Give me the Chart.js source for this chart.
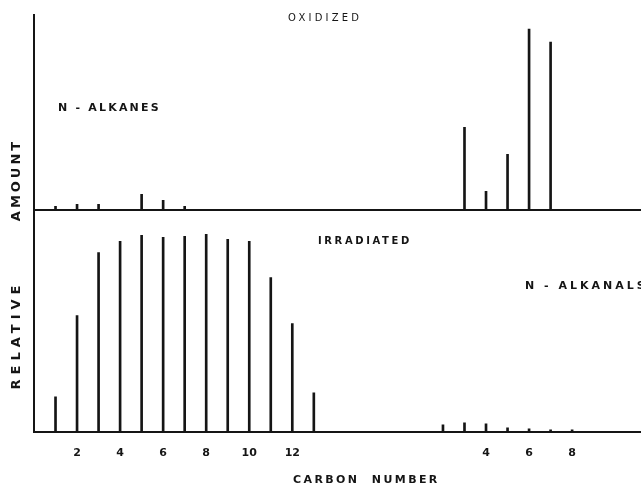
<!DOCTYPE html>
<html><head><meta charset="utf-8">
<script src="https://cdn.jsdelivr.net/npm/chart.js@4"></script>
<style>html,body{margin:0;padding:0;background:#fff}</style>
</head><body>
<canvas id="c" width="641" height="491"></canvas>
<script>
// ---- data (relative amounts) ----
const oxidizedAlkaneCarbons = [1, 2, 3, 5, 6, 7];
const oxidizedAlkanes = [4, 6, 6, 16, 10, 4];
const oxidizedAlkanalCarbons = [3, 4, 5, 6, 7];
const oxidizedAlkanals = [83, 19, 56, 181, 168];
const irradiatedAlkaneCarbons = [1, 2, 3, 4, 5, 6, 7, 8, 9, 10, 11, 12, 13];
const irradiatedAlkanes = [35, 116, 179, 190, 196, 194, 195, 197, 192, 190, 154, 108, 39];
const irradiatedAlkanalCarbons = [2, 3, 4, 5, 6, 7, 8];
const irradiatedAlkanals = [7, 9, 8, 4, 3, 2, 2];
const alkanalOffset = 17; // alkanal group drawn to the right of the alkane group
const tickValues = [2, 4, 6, 8, 10, 12, 21, 23, 25];
const tickLabels = ['2', '4', '6', '8', '10', '12', '4', '6', '8'];

const INK = '#151515';
const pts = (cs, vs, off) => cs.map((c, i) => ({ x: c + off, y: vs[i] }));
const barStyle = { backgroundColor: INK, borderWidth: 0, barThickness: 2, grouped: false };

const annotate = {
  id: 'annotate',
  afterDraw(chart) {
    const ctx = chart.ctx, a = chart.chartArea;
    const yTop = chart.scales.yTop;
    ctx.save();
    ctx.strokeStyle = INK; ctx.lineWidth = 2;
    const y0 = Math.round(yTop.getPixelForValue(0));
    ctx.beginPath(); ctx.moveTo(a.left, y0); ctx.lineTo(a.right, y0); ctx.stroke();
    ctx.fillStyle = INK; ctx.textBaseline = 'middle';
    const txt = (s, x, y, size, weight, sp, align) => {
      ctx.font = weight + ' ' + size + 'px "DejaVu Sans", sans-serif';
      ctx.letterSpacing = sp + 'px';
      ctx.textAlign = align || 'left';
      ctx.fillText(s, x, y);
    };
    txt('OXIDIZED', 288, 18, 10, 'normal', 3.2);
    txt('IRRADIATED', 318, 241, 10, 'bold', 2.6);
    txt('N - ALKANES', 58, 108, 11, 'bold', 2.2);
    txt('N - ALKANALS', 525, 286, 11, 'bold', 3.0);
    txt('CARBON  NUMBER', 293, 480, 11, 'bold', 2.4);
    ctx.save();
    ctx.translate(17, 0); ctx.rotate(-Math.PI / 2);
    txt('AMOUNT', -180, 0, 13, 'bold', 3, 'center');
    txt('RELATIVE', -335, 0, 13, 'bold', 5, 'center');
    ctx.restore();
    ctx.restore();
  }
};

const hideWidth = scale => { scale.width = 0; };

new Chart(document.getElementById('c'), {
  type: 'bar',
  data: {
    datasets: [
      { ...barStyle, label: 'Oxidized n-alkanes', yAxisID: 'yTop', data: pts(oxidizedAlkaneCarbons, oxidizedAlkanes, 0) },
      { ...barStyle, label: 'Oxidized n-alkanals', yAxisID: 'yTop', data: pts(oxidizedAlkanalCarbons, oxidizedAlkanals, alkanalOffset) },
      { ...barStyle, label: 'Irradiated n-alkanes', yAxisID: 'yBot', data: pts(irradiatedAlkaneCarbons, irradiatedAlkanes, 0) },
      { ...barStyle, label: 'Irradiated n-alkanals', yAxisID: 'yBot', data: pts(irradiatedAlkanalCarbons, irradiatedAlkanals, alkanalOffset) }
    ]
  },
  options: {
    responsive: false,
    animation: false,
    devicePixelRatio: 1,
    layout: { padding: { left: 34, top: 15, right: 0, bottom: 24 } },
    plugins: { legend: { display: false }, tooltip: { enabled: false } },
    scales: {
      x: {
        type: 'linear', min: 0, max: 28.2, offset: false,
        grid: { display: false },
        border: { display: true, color: INK, width: 2 },
        afterBuildTicks(scale) { scale.ticks = tickValues.map(v => ({ value: v })); },
        ticks: {
          autoSkip: false, maxRotation: 0, padding: 7, color: INK,
          font: { family: '"DejaVu Sans", sans-serif', size: 11, weight: 'bold' },
          callback(v) { const i = tickValues.indexOf(v); return i >= 0 ? tickLabels[i] : ''; }
        }
      },
      yBot: {
        type: 'linear', position: 'left', stack: 'panels', stackWeight: 221,
        min: 0, max: 221, afterFit: hideWidth,
        grid: { display: false },
        ticks: { display: false },
        border: { display: true, color: INK, width: 2 }
      },
      yTop: {
        type: 'linear', position: 'left', stack: 'panels', stackWeight: 195,
        min: 0, max: 195, afterFit: hideWidth,
        grid: { display: false },
        ticks: { display: false },
        border: { display: true, color: INK, width: 2 }
      }
    }
  },
  plugins: [annotate]
});
</script>
</body></html>
